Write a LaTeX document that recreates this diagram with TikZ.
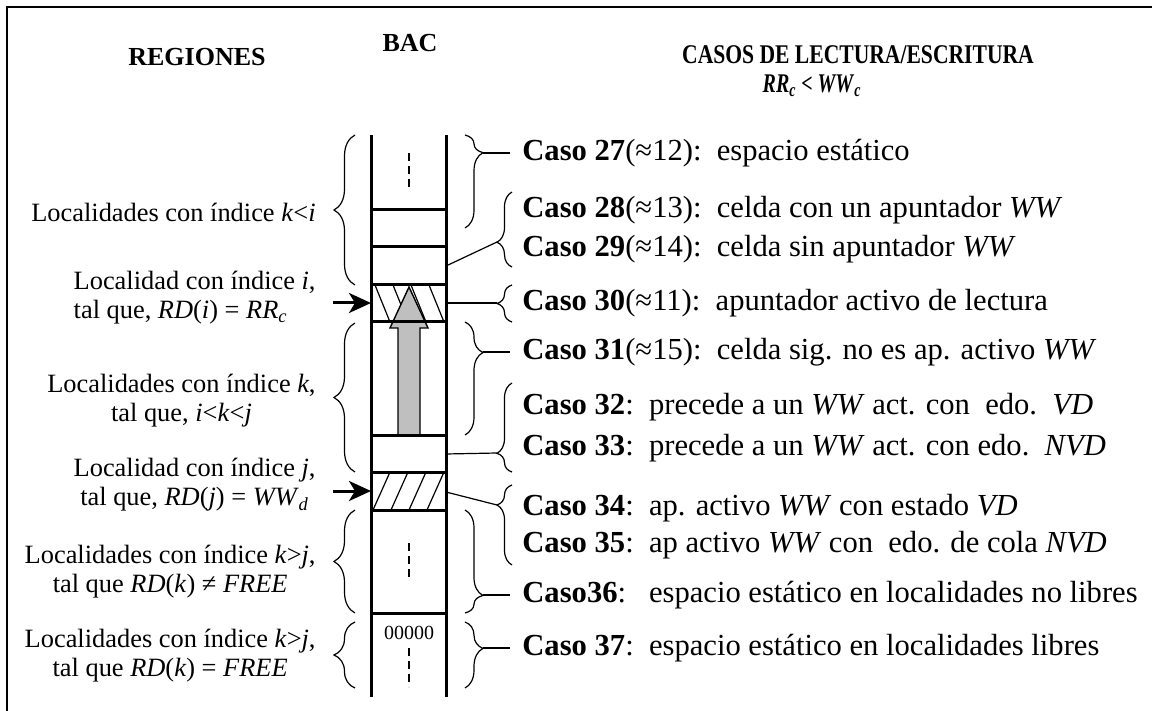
\documentclass[tikz,border=0pt]{standalone}
\usepackage{fontspec}
\setmainfont{Liberation Serif}
\usetikzlibrary{arrows.meta,decorations.pathreplacing}
\tikzset{
  wall/.style={line width=1.5pt},
  hatch/.style={line width=.6pt},
  gap/.style={line width=.6pt,dash pattern=on 4pt off 2.5pt},
  region/.style={font=\fontsize{13.2}{14.5}\selectfont,align=center,anchor=east,inner sep=0pt},
  caso/.style={font=\fontsize{15.3}{18}\selectfont,anchor=west,inner xsep=6pt,inner ysep=0pt},
  heading/.style={font=\fontsize{13}{15}\selectfont\bfseries,inner sep=0pt},
  curly/.style n args={2}{decorate,decoration={brace,amplitude=#1,aspect=#2},line width=.6pt},
  link/.style={line width=.6pt},
  ptr/.style={-{Stealth[length=11pt,width=10pt,inset=3pt]},line width=1.5pt},
  hint/.style={fill=gray!50,draw,line width=.7pt},
}
\begin{document}
\begin{tikzpicture}[x=0.5pt,y=-0.5pt]
  \useasboundingbox (0,0) rectangle (1152,711);
  \draw[line width=1pt] (7,720) -- (7,7) -- (1160,7);

  % ---- headings ----
  \node[heading] (hreg) at (197,57) {REGIONES};
  \node[heading] (hbac) at (410,43) {BAC};
  \node[heading,font=\fontsize{13.5}{16}\selectfont\bfseries] (hcas) at (858,55) {\scalebox{0.8}[1]{CASOS DE LECTURA/ESCRITURA}};
  \node[heading,font=\fontsize{13.5}{16}\selectfont\bfseries] (hcond) at (812,86) {\scalebox{0.74}[1]{\textit{RR}\textsubscript{\textit{c}} < \textit{WW}\textsubscript{\textit{c}}}};

  % ---- the BAC column ----
  \begin{scope}
    \clip (371,285) rectangle (446,322);
    \foreach \x in {375,393,411,429}{ \draw[hatch] (\x,285) -- (\x+15,322); }
  \end{scope}
  \begin{scope}
    \clip (371,472) rectangle (446,510);
    \foreach \x in {373,391,409,427}{ \draw[hatch] (\x,510) -- (\x+17,472); }
  \end{scope}
  \draw[hint] (398,435) -- (398,328) -- (390,328) -- (409,287) -- (428,328) -- (420,328) -- (420,435);
  \foreach \y in {210,247,285,322,435,472,510,613}{ \draw[wall] (371,\y) -- (446,\y); }
  \draw[wall] (371,135) -- (371,697);
  \draw[wall] (446,135) -- (446,697);
  \draw[gap] (409,153) -- (409,190);
  \draw[gap] (409,543) -- (409,580);
  \draw[gap] (409,648) -- (409,687);
  \node[font=\fontsize{10}{12}\selectfont,inner sep=0pt] (zeros) at (409,633) {00000};

  % ---- left: regions ----
  \draw[curly={10.5pt}{.5}] (355,285) -- (355,135);
  \draw[curly={10.5pt}{.5}] (355,472) -- (355,323);
  \draw[curly={10.5pt}{.5}] (355,613) -- (355,510);
  \draw[curly={10.5pt}{.5}] (355,688) -- (355,622);
  \node[region] (r1) at (316,212) {Localidades con índice \textit{k}<\textit{i}};
  \node[region,align=left] (r2) at (316,298) {Localidad con índice \textit{i},\\tal que, \textit{RD}(\textit{i}) = \textit{RR}\textsubscript{\textit{c}}};
  \node[region] (r3) at (316,401) {Localidades con índice \textit{k},\\tal que, \textit{i}<\textit{k}<\textit{j}};
  \node[region] (r4) at (316,485) {Localidad con índice \textit{j},\\tal que, \textit{RD}(\textit{j}) = \textit{WW}\textsubscript{\textit{d}}};
  \node[region] (r5) at (316,572) {Localidades con índice \textit{k}>\textit{j},\\tal que \textit{RD}(\textit{k}) ≠ \textit{FREE}};
  \node[region] (r6) at (316,656) {Localidades con índice \textit{k}>\textit{j},\\tal que \textit{RD}(\textit{k}) = \textit{FREE}};
  \coordinate (pi) at (333,303);
  \coordinate (ci) at (371,303);
  \coordinate (pj) at (333,491);
  \coordinate (cj) at (371,491);
  \draw[ptr] (pi) -- (ci);
  \draw[ptr] (pj) -- (cj);

  % ---- right: cases ----
  \draw[curly={9pt}{.19}] (465,135) -- (465,228);
  \draw[curly={7.5pt}{.33}] (512,267) -- (512,192);
  \draw[curly={7.5pt}{.5}] (512,322) -- (512,285);
  \draw[curly={9pt}{.27}] (465,322) -- (465,435);
  \draw[curly={7.5pt}{.21}] (512,472) -- (512,383);
  \draw[curly={7.5pt}{.75}] (512,565) -- (512,485);
  \draw[curly={9pt}{.83}] (465,510) -- (465,613);
  \draw[curly={9pt}{.4}] (465,622) -- (465,688);

  \node[caso] (c27) at (510,153) {\textbf{Caso 27}(≈12):\ \ espacio estático};
  \node[caso] (c28) at (510,210) {\textbf{Caso 28}(≈13):\ \ celda con un apuntador \textit{WW}};
  \node[caso] (c29) at (510,249) {\textbf{Caso 29}(≈14):\ \ celda sin apuntador \textit{WW}};
  \node[caso] (c30) at (510,303) {\textbf{Caso 30}(≈11):\ \ apuntador activo de lectura};
  \node[caso] (c31) at (510,352) {\textbf{Caso 31}(≈15):\ \ celda sig. no es ap. activo \textit{WW}};
  \node[caso] (c32) at (510,407) {\textbf{Caso 32}:\ \ precede a un \textit{WW} act. con\ \ edo.\ \ \textit{VD}};
  \node[caso] (c33) at (510,448) {\textbf{Caso 33}:\ \ precede a un \textit{WW} act. con edo.\ \ \textit{NVD}};
  \node[caso] (c34) at (510,508) {\textbf{Caso 34}:\ \ ap. activo \textit{WW} con estado \textit{VD}};
  \node[caso] (c35) at (510,545) {\textbf{Caso 35}:\ \ ap activo \textit{WW} con\ \ edo. de cola \textit{NVD}};
  \node[caso] (c36) at (510,595) {\textbf{Caso36}:\ \ \ espacio estático en localidades no libres};
  \node[caso] (c37) at (510,648) {\textbf{Caso 37}:\ \ espacio estático en localidades libres};

  \coordinate (t27) at (483,153);
  \coordinate (t28) at (497,242);
  \coordinate (t30) at (497,303);
  \coordinate (t31) at (483,352);
  \coordinate (t32) at (497,453);
  \coordinate (t34) at (497,505);
  \coordinate (t36) at (483,595);
  \coordinate (t37) at (483,648);
  \coordinate (e28) at (446,266);
  \coordinate (e30) at (446,303);
  \coordinate (e32) at (446,454);
  \coordinate (e34) at (446,492);
  \draw[link] (t27) -- (c27.west);
  \draw[link] (t31) -- (c31.west);
  \draw[link] (t36) -- (c36.west);
  \draw[link] (t37) -- (c37.west);
  \draw[link] (e28) -- (t28);
  \draw[link] (e30) -- (t30);
  \draw[link] (e32) -- (t32);
  \draw[link] (e34) -- (t34);
\end{tikzpicture}
\end{document}
